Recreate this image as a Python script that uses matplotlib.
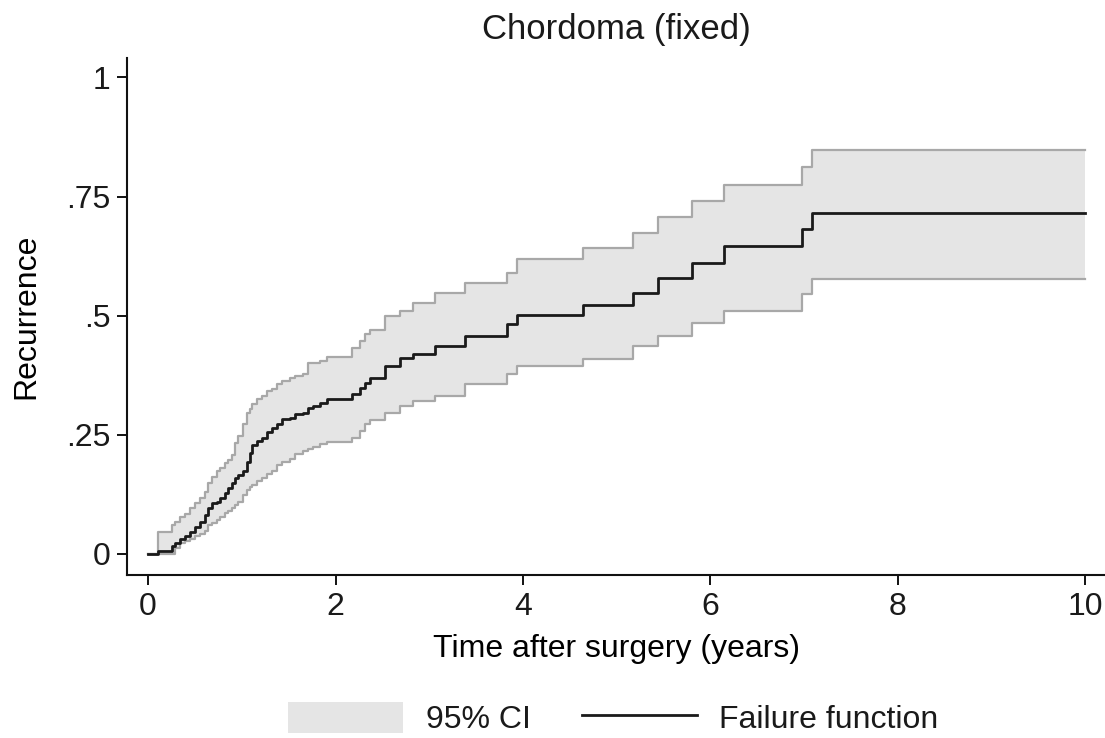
import numpy as np
import matplotlib
matplotlib.use('Agg')
import matplotlib.pyplot as plt
from matplotlib.patches import Patch
from matplotlib.lines import Line2D

# Kaplan-Meier failure function, years after surgery
TIMES = [0.0, 0.107, 0.256, 0.288, 0.342, 0.395, 0.448, 0.501, 0.555, 0.608,
         0.640, 0.683, 0.736, 0.768, 0.822, 0.854, 0.897, 0.928, 0.961, 1.014,
         1.057, 1.089, 1.110, 1.163, 1.217, 1.270, 1.323, 1.377, 1.430, 1.515,
         1.569, 1.654, 1.708, 1.761, 1.836, 1.910, 2.177, 2.263, 2.316, 2.369,
         2.529, 2.689, 2.828, 3.063, 3.383, 3.831, 3.938, 4.643, 5.176, 5.443,
         5.806, 6.147, 6.980, 7.086]
FAILURE = [0.0, 0.006, 0.017, 0.023, 0.031, 0.038, 0.046, 0.056, 0.067, 0.081,
           0.096, 0.106, 0.109, 0.117, 0.127, 0.138, 0.148, 0.159, 0.165, 0.175,
           0.192, 0.211, 0.228, 0.238, 0.244, 0.255, 0.265, 0.273, 0.284, 0.286,
           0.294, 0.296, 0.307, 0.311, 0.317, 0.326, 0.336, 0.349, 0.359, 0.370,
           0.395, 0.411, 0.420, 0.436, 0.457, 0.482, 0.501, 0.522, 0.547, 0.578,
           0.610, 0.647, 0.681, 0.716]
CI_UPPER = [0.0, 0.046, 0.061, 0.067, 0.077, 0.084, 0.096, 0.106, 0.117, 0.129,
            0.148, 0.161, 0.175, 0.180, 0.190, 0.198, 0.207, 0.232, 0.248, 0.273,
            0.296, 0.305, 0.315, 0.326, 0.332, 0.342, 0.347, 0.357, 0.363, 0.370,
            0.374, 0.378, 0.401, 0.401, 0.405, 0.413, 0.432, 0.447, 0.461, 0.470,
            0.499, 0.509, 0.526, 0.547, 0.568, 0.589, 0.618, 0.641, 0.674, 0.706,
            0.741, 0.775, 0.812, 0.848]
CI_LOWER = [0.0, 0.0, 0.0, 0.013, 0.023, 0.027, 0.031, 0.038, 0.042, 0.048,
            0.061, 0.065, 0.071, 0.077, 0.086, 0.090, 0.096, 0.102, 0.109, 0.123,
            0.134, 0.140, 0.144, 0.154, 0.159, 0.167, 0.175, 0.186, 0.192, 0.200,
            0.209, 0.217, 0.221, 0.225, 0.230, 0.234, 0.244, 0.259, 0.273, 0.280,
            0.296, 0.311, 0.321, 0.332, 0.357, 0.378, 0.395, 0.409, 0.436, 0.457,
            0.484, 0.509, 0.545, 0.576]
FOLLOWUP_END = 10.0

X_TICKS = [0, 2, 4, 6, 8, 10]
Y_TICKS = [0, 0.25, 0.5, 0.75, 1]
Y_TICK_LABELS = ['0', '.25', '.5', '.75', '1']

TEXT_COLOR = '#1a1a1a'
BAND_COLOR = '#e5e5e5'
BAND_EDGE = '#a8a8a8'
LINE_COLOR = '#1a1a1a'


def extend(values):
    # carry the last value on to the end of follow-up
    return np.append(values, values[-1])


def main():
    plt.rcParams['font.family'] = ['Liberation Sans', 'DejaVu Sans']
    plt.rcParams['text.color'] = TEXT_COLOR

    t = np.append(TIMES, FOLLOWUP_END)
    est = extend(FAILURE)
    hi = extend(CI_UPPER)
    lo = extend(CI_LOWER)

    fig = plt.figure(figsize=(11.05, 7.38), dpi=100)
    ax = fig.add_axes([0.115, 0.221, 0.885, 0.700])

    ax.fill_between(t, lo, hi, step='post', facecolor=BAND_COLOR,
                    linewidth=0)
    ax.step(t, hi, where='post', color=BAND_EDGE, lw=1.6)
    ax.step(t, lo, where='post', color=BAND_EDGE, lw=1.6)
    ax.step(t, est, where='post', color=LINE_COLOR, lw=2.0)

    ax.set_xlim(-0.224, 10.21)
    ax.set_ylim(-0.044, 1.04)

    for side in ('top', 'right'):
        ax.spines[side].set_visible(False)
    for side in ('left', 'bottom'):
        ax.spines[side].set_linewidth(1.5)
        ax.spines[side].set_color('#111111')

    ax.set_xticks(X_TICKS)
    ax.set_yticks(Y_TICKS)
    ax.set_yticklabels(Y_TICK_LABELS)
    ax.tick_params(axis='both', direction='out', length=7, width=1.4,
                   labelsize=23, colors='#111111', labelcolor=TEXT_COLOR,
                   pad=5)

    ax.set_xlabel('Time after surgery (years)', fontsize=23, labelpad=9)
    ax.set_ylabel('Recurrence', fontsize=23, labelpad=18)
    ax.set_title('Chordoma (fixed)', fontsize=25, pad=14)

    handles = [Patch(facecolor=BAND_COLOR, edgecolor='none'),
               Line2D([], [], color=LINE_COLOR, lw=2.0)]
    fig.legend(handles, ['95% CI', 'Failure function'], loc='center',
               bbox_to_anchor=(0.555, 0.026), ncol=2, frameon=False,
               fontsize=23, handlelength=3.6, handleheight=1.1,
               handletextpad=0.7, columnspacing=1.6)

    fig.savefig('out.png', dpi=100)


if __name__ == '__main__':
    main()
